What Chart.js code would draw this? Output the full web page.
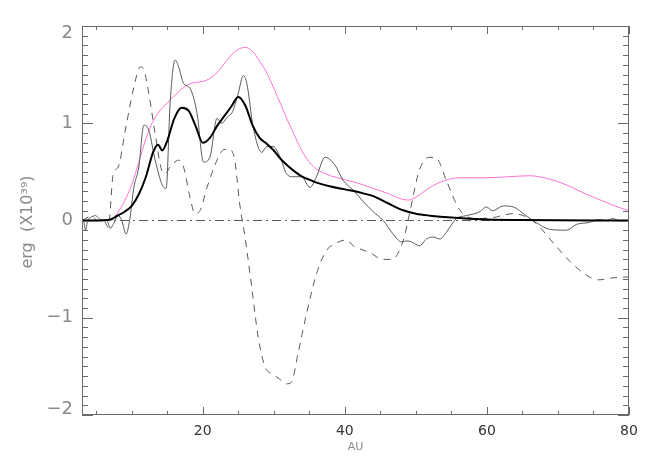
<!DOCTYPE html>
<html>
<head>
<meta charset="utf-8">
<script src="https://cdn.jsdelivr.net/npm/chart.js@4"></script>
<style>
  html, body { margin: 0; padding: 0; background: #fff; }
  #wrap { width: 654px; height: 467px; }
</style>
</head>
<body>
<div id="wrap"><canvas id="energyChart"></canvas></div>
<script>
// Datos (x en AU, y en unidades de 1e39 erg)
const pinkAU  = [3, 5, 7, 8, 9, 10, 11, 12, 13, 14, 15, 16, 17, 18, 19, 20, 21, 22, 23, 24, 25, 26, 27, 28, 29, 30, 31, 32, 33, 34, 35, 36, 37, 38, 40, 42, 44, 46, 48, 49, 50, 51, 52, 53, 55, 57, 60, 63, 66, 68, 70, 72, 74, 76, 78, 80];
const pinkErg = [0, 0, 0, 0.08, 0.2, 0.37, 0.6, 0.84, 1.02, 1.13, 1.21, 1.28, 1.35, 1.40, 1.42, 1.43, 1.46, 1.52, 1.61, 1.70, 1.76, 1.78, 1.74, 1.64, 1.52, 1.36, 1.19, 1.02, 0.86, 0.71, 0.60, 0.53, 0.49, 0.46, 0.42, 0.38, 0.33, 0.28, 0.22, 0.21, 0.24, 0.29, 0.34, 0.38, 0.43, 0.44, 0.44, 0.45, 0.46, 0.44, 0.40, 0.34, 0.27, 0.21, 0.15, 0.10];

const meanAU  = [3, 5, 7, 8, 9, 10, 11, 12, 13, 13.7, 14.3, 15, 16, 17, 18, 19, 20, 21, 22, 23, 24, 25, 26, 27, 28, 29, 30, 31, 32, 33, 34, 35, 36, 38, 40, 42, 44, 46, 48, 50, 52, 55, 60, 65, 80];
const meanErg = [0, 0, 0.01, 0.05, 0.09, 0.15, 0.27, 0.45, 0.70, 0.78, 0.72, 0.82, 1.05, 1.16, 1.13, 0.97, 0.80, 0.85, 0.97, 1.07, 1.17, 1.27, 1.18, 0.98, 0.85, 0.79, 0.72, 0.63, 0.56, 0.50, 0.45, 0.42, 0.39, 0.35, 0.32, 0.29, 0.25, 0.18, 0.11, 0.07, 0.05, 0.03, 0.01, 0.005, 0];

const rawAU  = [3, 3.2, 3.5, 3.8, 4.2, 4.9, 5.6, 6.5, 7.0, 7.4, 8.1, 8.6, 9.2, 9.7, 10.3, 11.0, 11.7, 12.4, 13.3, 14.5, 14.85, 15.4, 16.1, 16.6, 17.3, 18.2, 19.2, 20.1, 21.0, 22.0, 22.7, 23.4, 24.2, 25.0, 25.7, 26.2, 27.1, 28.3, 29.0, 29.9, 30.9, 31.8, 32.7, 33.9, 35.1, 36.0, 37.2, 38.6, 39.8, 41.2, 42.4, 44.0, 45.4, 46.8, 48.0, 48.7, 49.4, 50.5, 51.5, 52.4, 53.4, 54.3, 55.7, 57.1, 59.0, 59.9, 60.8, 62.3, 63.7, 65.5, 66.9, 68.8, 71.2, 72.6, 74.4, 75.7, 76.8, 77.8, 78.5, 80];
const rawErg = [-0.02, 0, -0.10, 0, 0.03, 0.05, 0.01, 0, -0.08, -0.04, 0.05, 0, -0.14, 0, 0.34, 0.55, 0.98, 0.93, 0.62, 0.34, 0.33, 1.20, 1.65, 1.58, 1.41, 1.36, 1.10, 0.60, 0.65, 1.05, 1.00, 1.06, 1.12, 1.31, 1.49, 1.41, 0.96, 0.70, 0.76, 0.76, 0.65, 0.48, 0.45, 0.45, 0.34, 0.45, 0.65, 0.57, 0.41, 0.31, 0.21, 0.09, 0, -0.14, -0.22, -0.21, -0.22, -0.26, -0.19, -0.17, -0.19, -0.12, 0.02, 0.05, 0.09, 0.14, 0.10, 0.15, 0.14, 0.05, -0.02, -0.09, -0.10, -0.04, -0.02, 0.01, 0, 0.02, 0, 0];

const dashAU  = [3, 4.2, 5.3, 6.0, 6.7, 7.4, 8.1, 9.1, 10.3, 11.2, 11.7, 12.4, 13.3, 14.2, 14.7, 15.4, 16.6, 17.3, 18.2, 18.9, 19.6, 20.6, 22.0, 23.0, 23.8, 24.5, 25.2, 25.95, 26.9, 27.8, 28.8, 29.9, 30.8, 31.8, 32.5, 33.4, 34.6, 36.0, 37.4, 38.6, 40.2, 41.2, 43.5, 45.4, 46.6, 48.2, 49.1, 50.5, 51.9, 52.9, 54.3, 55.7, 56.6, 58.5, 60.8, 63.7, 65.1, 66.9, 69.8, 72.1, 74.4, 75.7, 77.7, 80];
const dashErg = [0, 0.04, 0, 0.01, -0.07, 0.48, 0.55, 0.93, 1.37, 1.58, 1.55, 1.31, 0.89, 0.52, 0.48, 0.55, 0.62, 0.55, 0.24, 0.07, 0.10, 0.34, 0.62, 0.73, 0.73, 0.62, 0.17, -0.17, -0.69, -1.20, -1.51, -1.58, -1.63, -1.68, -1.66, -1.37, -0.96, -0.55, -0.31, -0.24, -0.20, -0.26, -0.33, -0.40, -0.40, -0.21, 0.07, 0.52, 0.65, 0.64, 0.41, 0.17, 0.07, 0.02, 0.03, 0.07, 0.05, -0.03, -0.27, -0.45, -0.58, -0.61, -0.59, -0.58];

const zeroAU  = [3, 80];
const zeroErg = [0, 0];

const xTicks = [20, 40, 60, 80];
const yTicks = [-2, -1, 0, 1, 2];

const Y_MIN = -2, Y_MAX = 2;

const pts = (xs, ys) => xs.map((v, i) => ({ x: v, y: ys[i] }));

// Marco y marcas hacia dentro, estilo IDL
const frame = {
    id: 'frame',
    afterDatasetsDraw(chart) {
        const { ctx, chartArea: a, scales: { x, y } } = chart;
        ctx.save();
        ctx.strokeStyle = '#6a6a6a';
        ctx.lineWidth = 1;
        ctx.strokeRect(a.left + 0.5, a.top + 0.5, a.right - a.left - 1, a.bottom - a.top - 1);

        ctx.beginPath();
        for (let v = 5; v <= 80; v += 5) {
            const px = Math.round(x.getPixelForValue(v)) + 0.5;
            const len = xTicks.includes(v) ? 8 : 4;
            ctx.moveTo(px, a.bottom); ctx.lineTo(px, a.bottom - len);
            ctx.moveTo(px, a.top); ctx.lineTo(px, a.top + len);
        }
        for (let i = -20; i <= 20; i++) {
            const py = Math.round(y.getPixelForValue(i / 10)) + 0.5;
            const len = (i % 10 === 0) ? 11 : 6;
            ctx.moveTo(a.left, py); ctx.lineTo(a.left + len, py);
            ctx.moveTo(a.right, py); ctx.lineTo(a.right - len, py);
        }
        ctx.stroke();

        // títulos de ejes
        ctx.fillStyle = '#8a8a8a';
        ctx.font = '11px "DejaVu Sans"';
        ctx.textAlign = 'center';
        ctx.textBaseline = 'middle';
        ctx.fillText('AU', (a.left + a.right) / 2, 447);

        ctx.translate(28, 222);
        ctx.rotate(-Math.PI / 2);
        ctx.font = '16px "DejaVu Sans"';
        ctx.fillText('erg  (X10\u00B3\u2079)', 0, 0);
        ctx.restore();
    }
};

const ctx = document.getElementById('energyChart').getContext('2d');
const energyChart = new Chart(ctx, {
    type: 'line',
    data: {
        datasets: [
            { label: 'total', data: pts(meanAU, meanErg), borderColor: '#000', borderWidth: 2, order: 0 },
            { label: 'raw', data: pts(rawAU, rawErg), borderColor: '#5a5a5a', borderWidth: 1, order: 1 },
            { label: 'dashed', data: pts(dashAU, dashErg), borderColor: '#5a5a5a', borderWidth: 1, borderDash: [7, 6], order: 2 },
            { label: 'pink', data: pts(pinkAU, pinkErg), borderColor: '#ff70d4', borderWidth: 1, order: 3 },
            { label: 'zero', data: pts(zeroAU, zeroErg), borderColor: '#5a5a5a', borderWidth: 1, borderDash: [9, 4, 2, 4], tension: 0, order: 4 }
        ]
    },
    options: {
        responsive: true,
        maintainAspectRatio: false,
        animation: false,
        layout: { padding: { top: 26, right: 25, left: 0, bottom: 0 } },
        elements: {
            point: { radius: 0 },
            line: { tension: 0.4, cubicInterpolationMode: 'monotone', fill: false }
        },
        plugins: { legend: { display: false }, tooltip: { enabled: false } },
        scales: {
            x: {
                type: 'linear',
                min: 3,
                max: 80,
                afterFit: s => { s.height = 52; },
                afterBuildTicks: s => { s.ticks = xTicks.map(v => ({ value: v })); },
                grid: { display: false, drawTicks: false },
                border: { display: false },
                ticks: { padding: 8, color: '#333', font: { family: 'DejaVu Sans', size: 14 }, maxRotation: 0 }
            },
            y: {
                type: 'linear',
                min: Y_MIN,
                max: Y_MAX,
                afterFit: s => { s.width = 82; },
                // las etiquetas extremas quedan un poco hacia dentro, como en el original
                afterBuildTicks: s => {
                    s.ticks = yTicks.map(v => ({ value: Math.min(Math.max(v, Y_MIN + 0.06), Y_MAX - 0.08) }));
                },
                grid: { display: false, drawTicks: false },
                border: { display: false },
                ticks: {
                    padding: 9,
                    color: '#8a8a8a',
                    font: { family: 'DejaVu Sans', size: 18 },
                    callback: v => {
                        const n = Math.round(v);
                        return n < 0 ? '\u2212' + Math.abs(n) : '' + n;
                    }
                }
            }
        }
    },
    plugins: [frame]
});
</script>
</body>
</html>
